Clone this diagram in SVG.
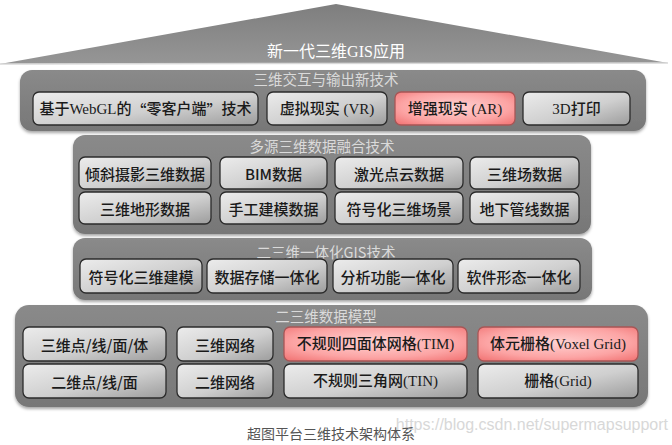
<svg xmlns="http://www.w3.org/2000/svg" width="672" height="445" viewBox="0 0 672 445">
<defs>
<linearGradient id="roofG" x1="0" y1="0" x2="0" y2="1">
<stop offset="0" stop-color="#7e7e7e"/>
<stop offset="1" stop-color="#969696"/>
</linearGradient>
<linearGradient id="panelG" x1="0" y1="0" x2="0" y2="1">
<stop offset="0" stop-color="#8a8a8a"/>
<stop offset="1" stop-color="#777777"/>
</linearGradient>
<linearGradient id="boxG" x1="0" y1="0" x2="1" y2="1">
<stop offset="0" stop-color="#ececec"/>
<stop offset="0.55" stop-color="#cfcfcf"/>
<stop offset="1" stop-color="#9c9c9c"/>
</linearGradient>
<radialGradient id="pinkG" cx="0.5" cy="0.45" r="0.75">
<stop offset="0" stop-color="#ffd2d2"/>
<stop offset="0.6" stop-color="#fca4a4"/>
<stop offset="1" stop-color="#f06e6e"/>
</radialGradient>
<filter id="sh" x="-5%" y="-10%" width="110%" height="125%">
<feDropShadow dx="0" dy="2" stdDeviation="1.6" flood-color="#000" flood-opacity="0.35"/>
</filter>
</defs>
<style>
.panel{fill:url(#panelG);filter:url(#sh)}
.box{fill:url(#boxG);stroke:#2b2b2b;stroke-width:1.3}
.pink{fill:url(#pinkG);stroke:#a85656;stroke-width:1.3}
.t{font-family:"Liberation Serif","Noto Sans CJK SC",serif;font-size:15px;font-weight:500;fill:#1a1a1a;text-anchor:middle;dominant-baseline:central}
.ts{font-family:"Noto Sans CJK SC","Liberation Sans",sans-serif;font-size:15px;font-weight:500;fill:#1a1a1a;text-anchor:middle;dominant-baseline:central}
.q{font-family:"Noto Sans CJK SC",sans-serif}
.title{font-family:"Liberation Serif","Noto Sans CJK SC",serif;font-size:14.5px;fill:#dadada;text-anchor:middle;dominant-baseline:central}
.titles{font-family:"Noto Sans CJK SC","Liberation Sans",sans-serif;font-size:14.5px;fill:#dadada;text-anchor:middle;dominant-baseline:central}
</style>
<rect width="672" height="445" fill="#ffffff"/>

<g id="roof">
<polygon points="0,64 336,4 668,63" fill="url(#roofG)"/>
<line x1="0" y1="64" x2="668" y2="63" stroke="#d8d8d8" stroke-width="1.5"/>
<text x="336" y="51" style="font-family:'Liberation Serif','Noto Sans CJK SC',serif;font-size:16px;fill:#ffffff;text-anchor:middle;dominant-baseline:central">新一代三维GIS应用</text>
</g>

<g id="layer1">
<rect class="panel" x="20" y="70" width="626" height="61" rx="12"/>
<text class="title" x="326" y="80">三维交互与输出新技术</text>
<g id="n-webgl"><rect class="box" x="33" y="92" width="225" height="33" rx="6"/><text class="t" x="145.5" y="108.5">基于WebGL的<tspan class="q">“</tspan>零客户端<tspan class="q">”</tspan>技术</text></g>
<g id="n-vr"><rect class="box" x="267" y="92" width="120" height="33" rx="6"/><text class="t" x="327" y="108.5">虚拟现实 (VR)</text></g>
<g id="n-ar"><rect class="pink" x="395" y="92" width="120" height="33" rx="6"/><text class="t" x="455" y="108.5">增强现实 (AR)</text></g>
<g id="n-3dp"><rect class="box" x="523" y="92" width="107" height="33" rx="6"/><text class="t" x="576.5" y="108.5">3D打印</text></g>
</g>

<g id="layer2">
<rect class="panel" x="73" y="135" width="518" height="99" rx="12"/>
<text class="title" x="322" y="147">多源三维数据融合技术</text>
<g id="n-oblique"><rect class="box" x="79" y="157" width="132" height="32" rx="6"/><text class="ts" x="145" y="173">倾斜摄影三维数据</text></g>
<g id="n-bim"><rect class="box" x="220" y="157" width="107" height="32" rx="6"/><text class="ts" x="273.5" y="173">BIM数据</text></g>
<g id="n-laser"><rect class="box" x="335" y="157" width="128" height="32" rx="6"/><text class="ts" x="399" y="173">激光点云数据</text></g>
<g id="n-field"><rect class="box" x="470" y="157" width="109" height="32" rx="6"/><text class="ts" x="524.5" y="173">三维场数据</text></g>
<g id="n-terrain"><rect class="box" x="79" y="192" width="132" height="32" rx="6"/><text class="ts" x="145" y="208">三维地形数据</text></g>
<g id="n-manual"><rect class="box" x="220" y="192" width="107" height="32" rx="6"/><text class="ts" x="273.5" y="208">手工建模数据</text></g>
<g id="n-symscene"><rect class="box" x="335" y="192" width="128" height="32" rx="6"/><text class="ts" x="399" y="208">符号化三维场景</text></g>
<g id="n-pipe"><rect class="box" x="470" y="192" width="109" height="32" rx="6"/><text class="ts" x="524.5" y="208">地下管线数据</text></g>
</g>

<g id="layer3">
<rect class="panel" x="73" y="238" width="519" height="62" rx="12"/>
<text class="titles" x="326" y="251">二三维一体化GIS技术</text>
<g id="n-symmodel"><rect class="box" x="80" y="259" width="122" height="34" rx="6"/><text class="ts" x="141" y="276">符号化三维建模</text></g>
<g id="n-storage"><rect class="box" x="207" y="259" width="120" height="34" rx="6"/><text class="ts" x="267" y="276">数据存储一体化</text></g>
<g id="n-analysis"><rect class="box" x="333" y="259" width="120" height="34" rx="6"/><text class="ts" x="393" y="276">分析功能一体化</text></g>
<g id="n-software"><rect class="box" x="458" y="259" width="122" height="34" rx="6"/><text class="ts" x="519" y="276">软件形态一体化</text></g>
</g>

<g id="layer4">
<rect class="panel" x="15" y="305" width="633" height="102" rx="14"/>
<text class="title" x="326" y="317">二三维数据模型</text>
<g id="n-3dvec"><rect class="box" x="23" y="327" width="143" height="34" rx="6"/><text class="ts" x="94.5" y="344">三维点/线/面/体</text></g>
<g id="n-3dnet"><rect class="box" x="177" y="327" width="96" height="34" rx="6"/><text class="ts" x="225" y="344">三维网络</text></g>
<g id="n-tim"><rect class="pink" x="284" y="327" width="183" height="34" rx="6"/><text class="t" x="375.5" y="344">不规则四面体网格(TIM)</text></g>
<g id="n-voxel"><rect class="pink" x="478" y="327" width="160" height="34" rx="6"/><text class="t" x="558" y="344">体元栅格(Voxel Grid)</text></g>
<g id="n-2dvec"><rect class="box" x="23" y="364" width="143" height="34" rx="6"/><text class="ts" x="94.5" y="381">二维点/线/面</text></g>
<g id="n-2dnet"><rect class="box" x="177" y="364" width="96" height="34" rx="6"/><text class="ts" x="225" y="381">二维网络</text></g>
<g id="n-tin"><rect class="box" x="284" y="364" width="183" height="34" rx="6"/><text class="t" x="375.5" y="381">不规则三角网(TIN)</text></g>
<g id="n-grid"><rect class="box" x="478" y="364" width="160" height="34" rx="6"/><text class="t" x="558" y="381">栅格(Grid)</text></g>
</g>

<g id="caption">
<text x="668" y="424" style="font-family:'Liberation Sans',sans-serif;font-size:16px;fill:#d8d8d8;text-anchor:end;dominant-baseline:central">https://blog.csdn.net/supermapsupport</text>
<text x="331" y="433" style="font-family:'Noto Sans CJK SC',sans-serif;font-size:14px;fill:#555555;text-anchor:middle;dominant-baseline:central">超图平台三维技术架构体系</text>
</g>
</svg>
